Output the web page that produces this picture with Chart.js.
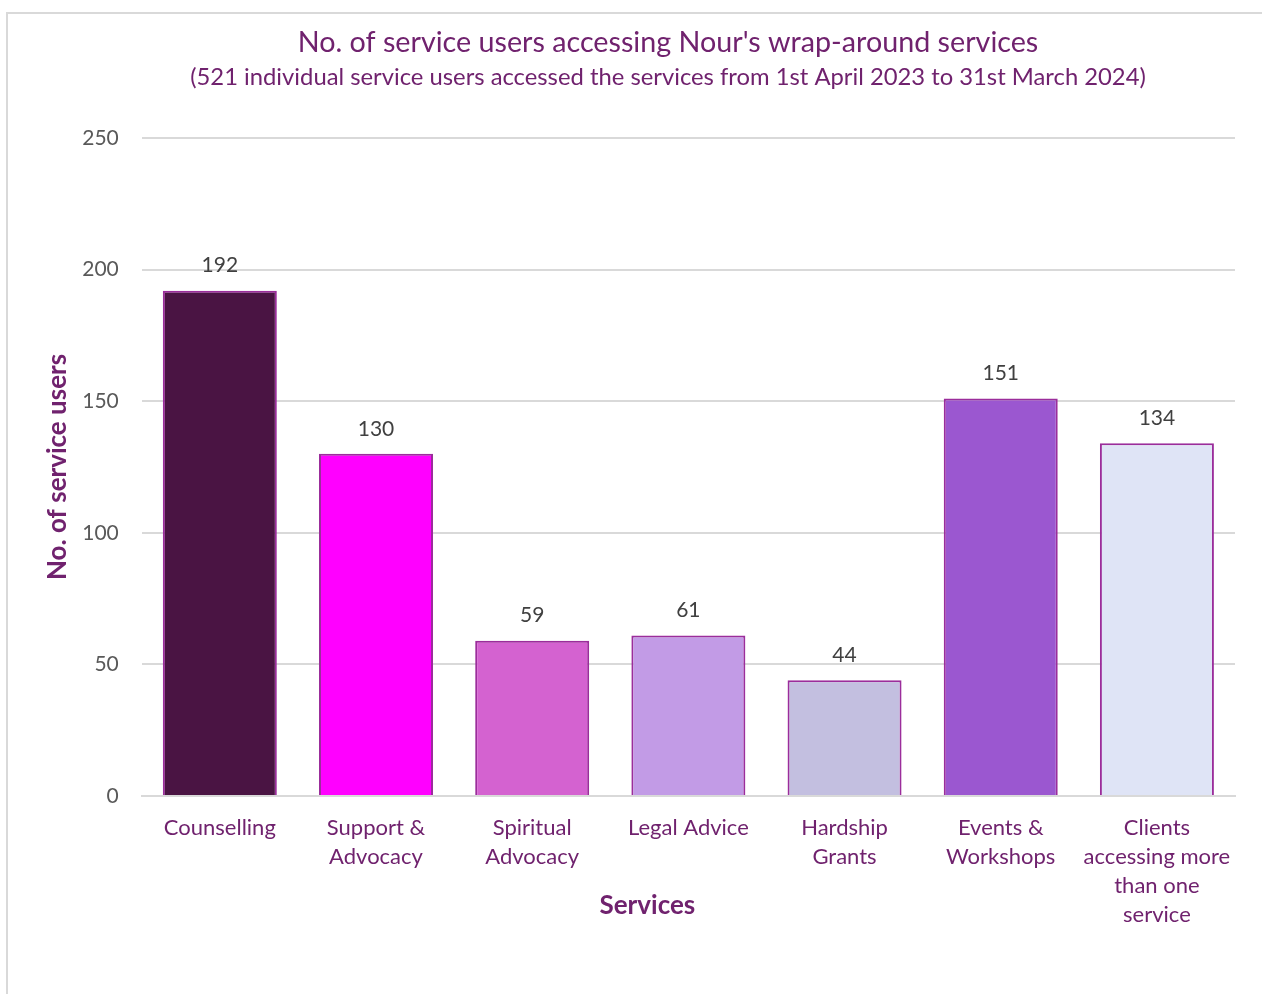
<!DOCTYPE html>
<html>
<head>
<meta charset="utf-8">
<script src="https://cdn.jsdelivr.net/npm/chart.js@4/dist/chart.umd.min.js"></script>
<style>
  html, body { margin: 0; padding: 0; background: #fff; }
  #frame {
    position: absolute; left: 6px; top: 12px;
    width: 1262px; height: 1000px;
    border: 2px solid #d9d9d9; box-sizing: border-box;
  }
  #wrap { position: absolute; left: 0; top: 0; width: 1262px; height: 994px; }
</style>
</head>
<body>
<div id="frame"></div>
<div id="wrap"><canvas id="services_chart"></canvas></div>
<script>
var services = [
    'Counselling',
    ['Support &', 'Advocacy'],
    ['Spiritual', 'Advocacy'],
    'Legal Advice',
    ['Hardship', 'Grants'],
    ['Events &', 'Workshops'],
    ['Clients', 'accessing more', 'than one', 'service']
];
var service_users = [192, 130, 59, 61, 44, 151, 134];
var bar_colours = ['#4a1443', '#ff00ff', '#d462d0', '#c29be6', '#c3bfe0', '#9b57d0', '#dfe4f6'];
var y_ticks = [0, 50, 100, 150, 200, 250];
var x_axis_title = 'Services';

var PURPLE = '#70226e';
var FONT = 'Lato, "Open Sans", sans-serif';

/*
 * Small plugin that writes each bar's value just above it
 */
var valueLabels = {
    id: 'valueLabels',
    afterDatasetsDraw: function(chart) {
        const ctx = chart.ctx;
        const meta = chart.getDatasetMeta(0);
        ctx.save();
        ctx.font = '21px ' + FONT;
        ctx.fillStyle = '#404040';
        ctx.textAlign = 'center';
        ctx.textBaseline = 'middle';
        meta.data.forEach(function(bar, i) {
            ctx.fillText(chart.data.datasets[0].data[i], bar.x, bar.y - 25);
        });
        ctx.restore();
    }
};

/*
 * The x axis title sits a bit left of centre, next to the tall last label
 */
var xCaption = {
    id: 'xCaption',
    afterDraw: function(chart) {
        const ctx = chart.ctx;
        const area = chart.chartArea;
        ctx.save();
        ctx.font = 'bold 26px ' + FONT;
        ctx.fillStyle = PURPLE;
        ctx.textAlign = 'center';
        ctx.textBaseline = 'middle';
        ctx.fillText(x_axis_title, (area.left + area.right) / 2 - 41, area.bottom + 110);
        ctx.restore();
    }
};

/*
 * Centre title + subtitle over the whole frame (it runs past the right edge)
 */
var wideTitles = {
    id: 'wideTitles',
    afterLayout: function(chart) {
        chart.boxes.forEach(function(box) {
            if (!box.axis && box.position === 'top') {
                box.left = 6;
                box.right = 1330;
            }
        });
    }
};

const config = {
    type: 'bar',
    data: {
        labels: services,
        datasets: [{
            label: 'No. of service users',
            data: service_users,
            backgroundColor: bar_colours,
            borderColor: '#9b2d9b',
            borderWidth: 2,
            categoryPercentage: 1.0,
            barPercentage: 0.73,
        }]
    },
    options: {
        responsive: true,
        maintainAspectRatio: false,
        animation: false,
        layout: {
            padding: { left: 30, right: 27, top: 11, bottom: 47 }
        },
        scales: {
            y: {
                min: 0,
                max: 250,
                afterBuildTicks: function(axis) {
                    axis.ticks = y_ticks.map(function(v) { return { value: v }; });
                },
                border: { display: false },
                grid: { color: '#d9d9d9', lineWidth: 2, drawTicks: false },
                ticks: {
                    color: '#595959',
                    padding: 23,
                    font: { family: FONT, size: 21 }
                },
                title: {
                    display: true,
                    text: 'No. of service users',
                    color: PURPLE,
                    padding: { top: 12, bottom: -14 },
                    font: { family: FONT, size: 26, weight: 'bold' }
                }
            },
            x: {
                border: { color: '#d9d9d9', width: 2 },
                grid: { display: false, drawTicks: false },
                ticks: {
                    color: PURPLE,
                    padding: 17,
                    maxRotation: 0,
                    autoSkip: false,
                    font: { family: FONT, size: 22, lineHeight: 1.33 }
                }
            }
        },
        plugins: {
            legend: { display: false },
            tooltip: { enabled: false },
            title: {
                display: true,
                text: "No. of service users accessing Nour's wrap-around services",
                color: PURPLE,
                padding: { top: 15, bottom: 2 },
                font: { family: FONT, size: 28.7, weight: 'normal' }
            },
            subtitle: {
                display: true,
                text: '(521 individual service users accessed the services from 1st April 2023 to 31st March 2024)',
                color: PURPLE,
                padding: { top: 1, bottom: 46 },
                font: { family: FONT, size: 23.8, weight: 'normal' }
            }
        }
    },
    plugins: [valueLabels, xCaption, wideTitles]
};
const myChart = new Chart(document.getElementById('services_chart'), config);
</script>
</body>
</html>
